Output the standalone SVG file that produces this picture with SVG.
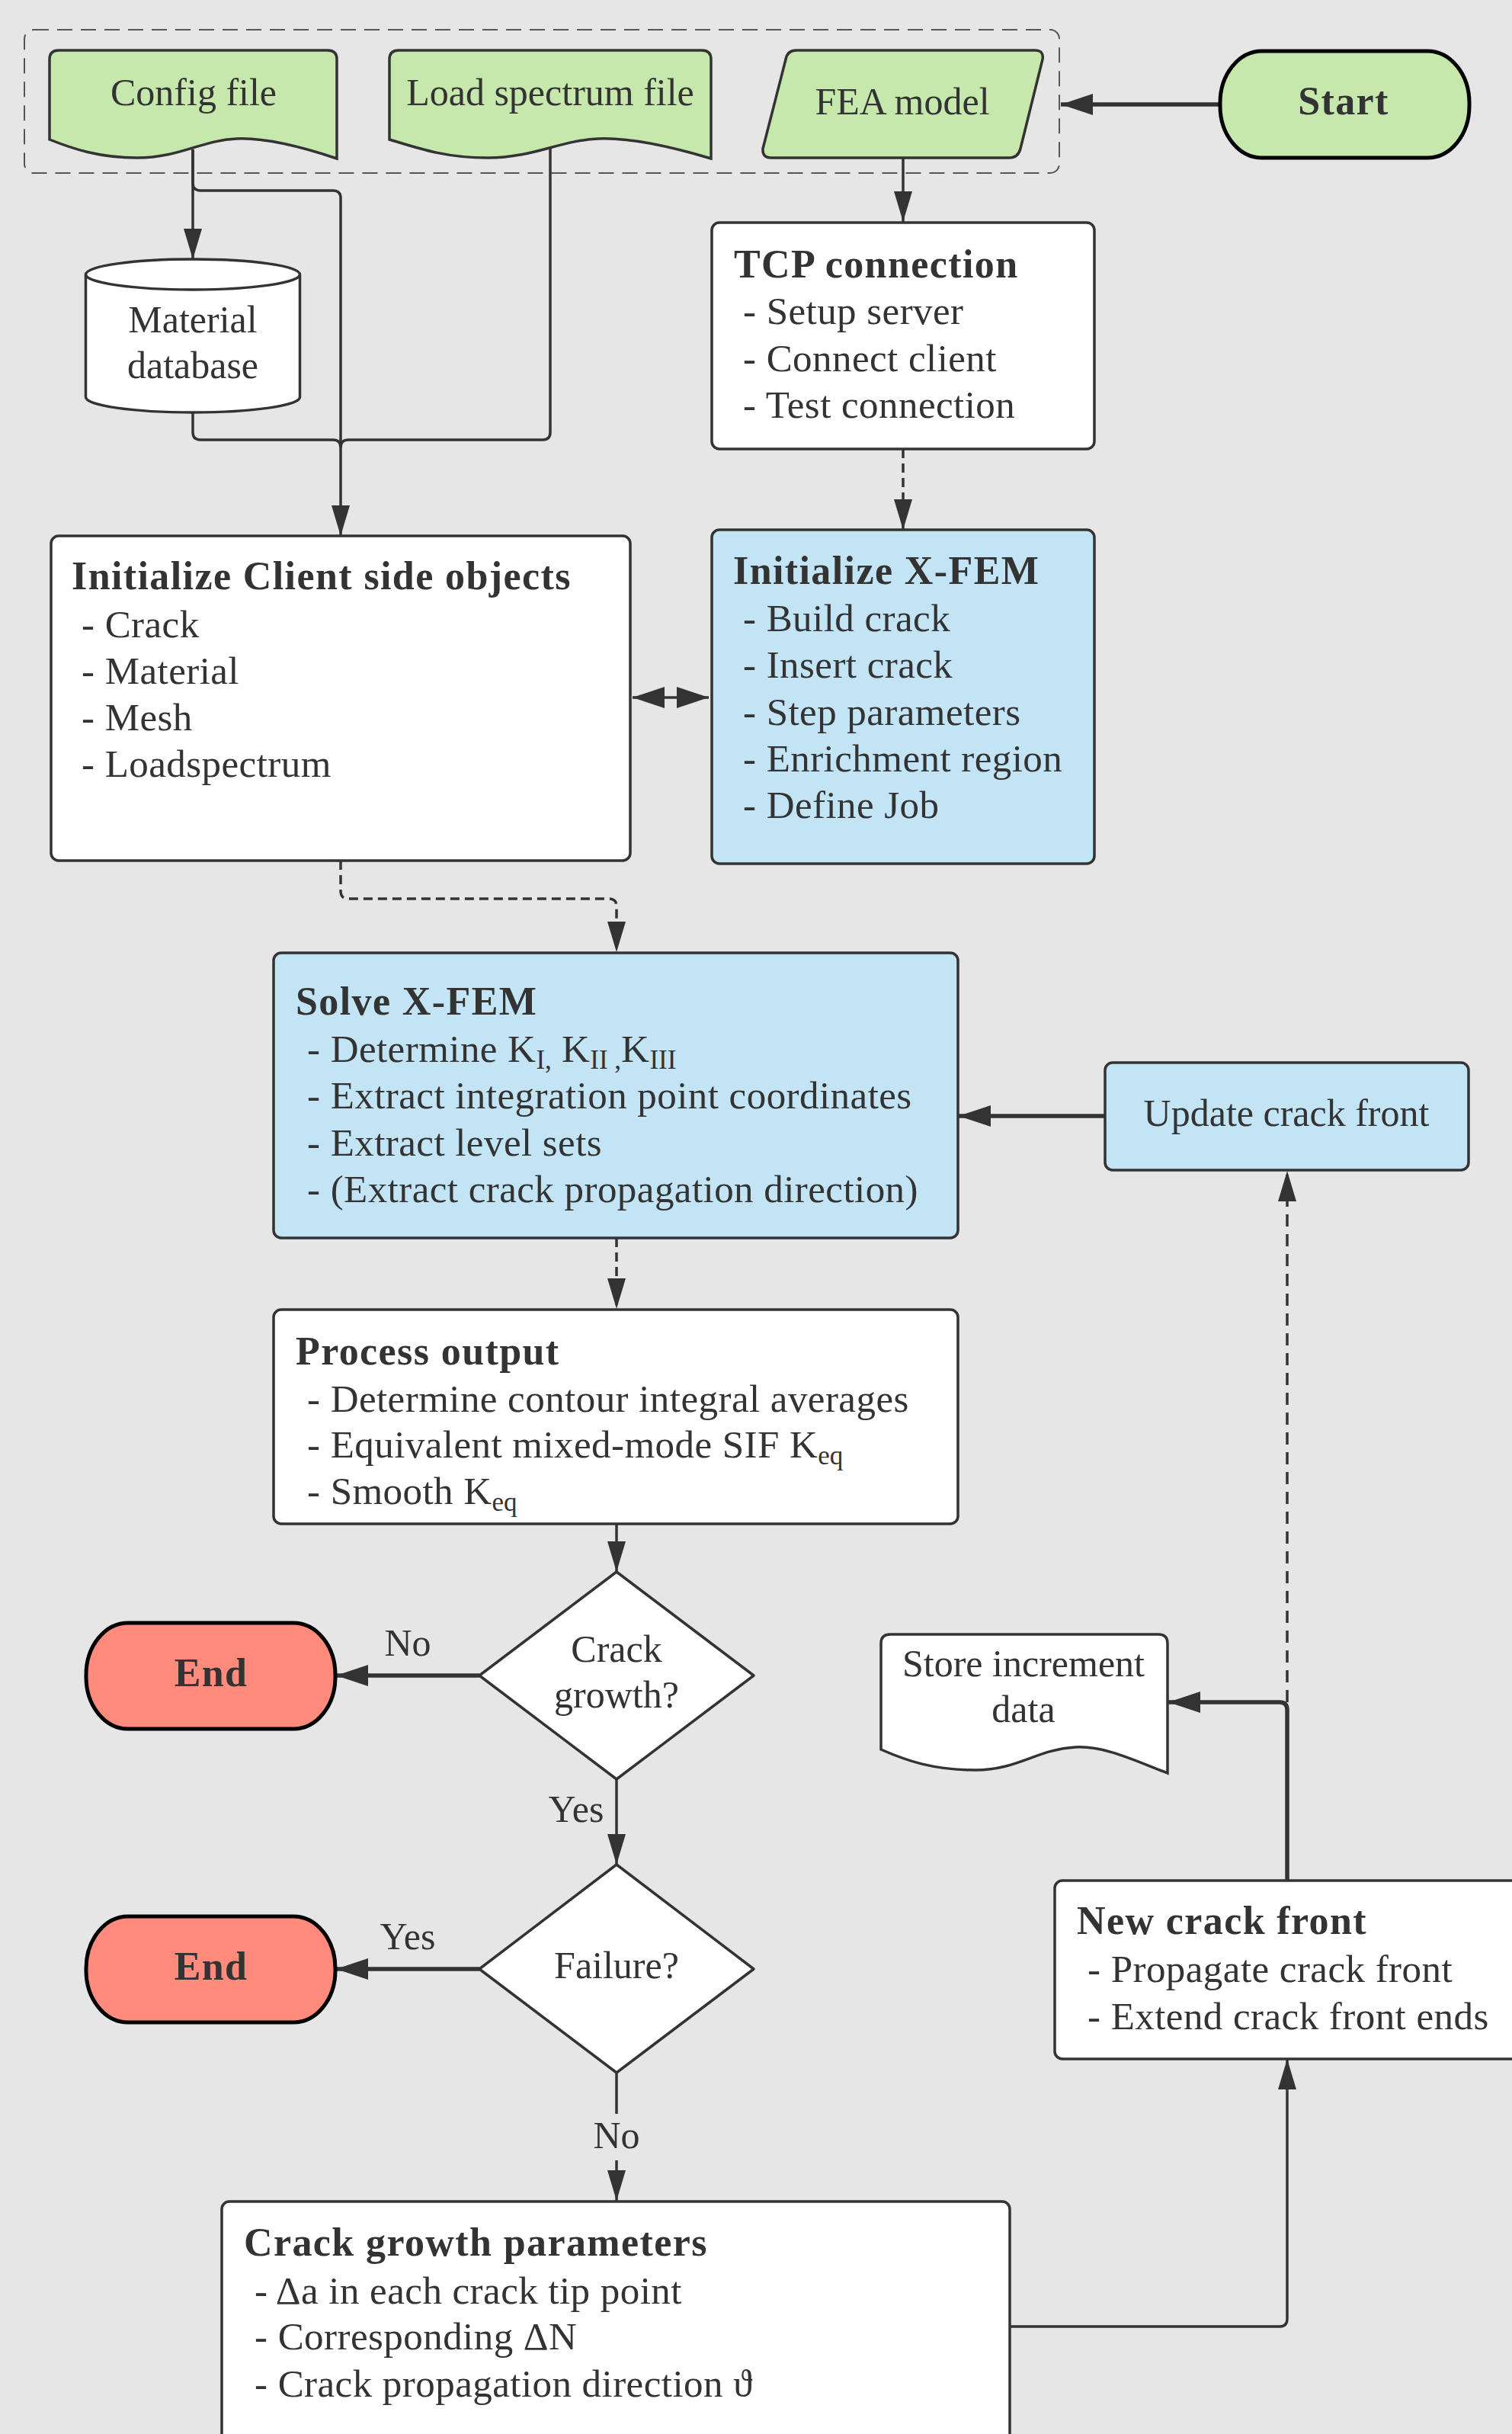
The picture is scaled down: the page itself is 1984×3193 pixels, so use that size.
<svg xmlns="http://www.w3.org/2000/svg" width="1984" height="3193" viewBox="0 0 1984 3193" font-family="Liberation Serif, DejaVu Serif, serif">
<style>
text{fill:#333;font-size:50px;font-family:"Liberation Serif","DejaVu Serif",serif}
.l{font-size:51px;letter-spacing:0.45px}
.b{font-weight:bold;font-size:52px;letter-spacing:1.4px}
.c{text-anchor:middle}
.box{stroke:#333;stroke-width:3.5}
.w{fill:#fff}
.g{fill:#c7e8ad}
.bl{fill:#c2e4f5}
.term{stroke:#000;stroke-width:5}
.e{fill:none;stroke:#333;stroke-width:3.5}
.thick{stroke-width:5.5}
.d{stroke-dasharray:12 7}
.dl{stroke-dasharray:16 10}
.sub{font-size:35px;letter-spacing:0}
</style>
<defs>
<marker id="ah" markerUnits="userSpaceOnUse" markerWidth="42" markerHeight="24" refX="40" refY="12" orient="auto"><path d="M0,0 L40,12 L0,24 Z" fill="#333"/></marker>
<marker id="aht" markerUnits="userSpaceOnUse" markerWidth="44" markerHeight="28" refX="42" refY="14" orient="auto-start-reverse"><path d="M0,0 L42,14 L0,28 Z" fill="#333"/></marker>
</defs>
<rect width="1984" height="3193" fill="#e6e6e6"/>

<g id="input-group">
<rect x="32" y="39" width="1358" height="188" rx="12" fill="none" stroke="#555" stroke-width="2" stroke-dasharray="20 11"/>
</g>

<g id="connectors">
<path class="e thick" d="M1600,137 L1392,137" marker-end="url(#aht)"/>
<path class="e" d="M1185,207 L1185,291" marker-end="url(#ah)"/>
<path class="e" d="M253,196 L253,340" marker-end="url(#ah)"/>
<path class="e" d="M253,196 L253,240 Q253,250 263,250 L437,250 Q447,250 447,260 L447,703" marker-end="url(#ah)"/>
<path class="e" d="M722,195 L722,567 Q722,577 712,577 L457,577 Q447,577 447,587"/>
<path class="e" d="M253,541 L253,567 Q253,577 263,577 L437,577 Q447,577 447,587"/>
<path class="e d" d="M1185,589 L1185,695" marker-end="url(#ah)"/>
<path class="e" d="M830,915 L930,915" marker-start="url(#aht)" marker-end="url(#aht)"/>
<path class="e d" d="M447,1129 L447,1169 Q447,1179 457,1179 L799,1179 Q809,1179 809,1189 L809,1249" marker-end="url(#ah)"/>
<path class="e d" d="M809,1624 L809,1717" marker-end="url(#ah)"/>
<path class="e thick" d="M1450,1464 L1258,1464" marker-end="url(#aht)"/>
<path class="e" d="M809,1999 L809,2062" marker-end="url(#ah)"/>
<path class="e thick" d="M629,2198 L441,2198" marker-end="url(#aht)"/>
<text class="c" x="535" y="2172">No</text>
<path class="e" d="M809,2334 L809,2446" marker-end="url(#ah)"/>
<text class="c" x="756" y="2390">Yes</text>
<path class="e thick" d="M629,2583 L441,2583" marker-end="url(#aht)"/>
<text class="c" x="535" y="2557">Yes</text>
<path class="e" d="M809,2719 L809,2773 M809,2834 L809,2887" marker-end="url(#ah)"/>
<text class="c" x="809" y="2818">No</text>
<path class="e" d="M1325,3052 L1679,3052 Q1689,3052 1689,3042 L1689,2701" marker-end="url(#ah)"/>
<path class="e thick" d="M1689,2467 L1689,2243 Q1689,2233 1679,2233 L1533,2233" marker-end="url(#aht)"/>
<path class="e dl" d="M1689,2233 L1689,1536" marker-end="url(#ah)"/>
</g>

<g id="config-file">
<path class="box g" d="M65,183 L65,78 Q65,66 77,66 L430,66 Q442,66 442,78 L442,208 C400,194 350,180 310,182 C265,184 235,207 180,207 C130,207 95,195 65,183 Z"/>
<text class="c" x="254" y="138">Config file</text>
</g>

<g id="load-spectrum-file">
<path class="box g" d="M511,183 L511,78 Q511,66 523,66 L921,66 Q933,66 933,78 L933,208 C886,194 830,180 785,182 C735,184 700,207 640,207 C585,207 550,195 511,183 Z"/>
<text class="c" x="722" y="138">Load spectrum file</text>
</g>

<g id="fea-model">
<path class="box g" d="M1045,66 L1358,66 Q1370,66 1368,78 L1339,195 Q1336,207 1324,207 L1012,207 Q1000,207 1001,195 L1031,78 Q1033,66 1045,66 Z"/>
<text class="c" x="1184" y="150">FEA model</text>
</g>

<g id="start">
<rect class="term g" x="1601" y="67" width="327" height="140" rx="55" ry="68"/>
<text class="c b" x="1763" y="150">Start</text>
</g>

<g id="material-database">
<path class="box w" d="M112.5,360 L112.5,521 A140.5,20 0 0 0 393.5,521 L393.5,360 A140.5,20 0 0 0 112.5,360 Z"/>
<path class="box" fill="none" d="M112.5,360 A140.5,20 0 0 0 393.5,360"/>
<text class="c" x="253" y="436">Material</text>
<text class="c" x="253" y="496">database</text>
</g>

<g id="tcp-connection">
<rect class="box w" x="934" y="292" width="502" height="297" rx="10"/>
<text class="b" x="963" y="364">TCP connection</text>
<text class="l" x="975" y="425">- Setup server</text>
<text class="l" x="975" y="487">- Connect client</text>
<text class="l" x="975" y="548">- Test connection</text>
</g>

<g id="init-client">
<rect class="box w" x="67" y="703" width="760" height="426" rx="10"/>
<text class="b" x="94" y="773">Initialize Client side objects</text>
<text class="l" x="107" y="836">- Crack</text>
<text class="l" x="107" y="897">- Material</text>
<text class="l" x="107" y="958">- Mesh</text>
<text class="l" x="107" y="1019">- Loadspectrum</text>
</g>

<g id="init-xfem">
<rect class="box bl" x="934" y="695" width="502" height="438" rx="10"/>
<text class="b" x="962" y="766">Initialize X-FEM</text>
<text class="l" x="975" y="828">- Build crack</text>
<text class="l" x="975" y="889">- Insert crack</text>
<text class="l" x="975" y="951">- Step parameters</text>
<text class="l" x="975" y="1012">- Enrichment region</text>
<text class="l" x="975" y="1073">- Define Job</text>
</g>

<g id="solve-xfem">
<rect class="box bl" x="359" y="1250" width="898" height="374" rx="10"/>
<text class="b" x="388" y="1331">Solve X-FEM</text>
<text class="l" x="403" y="1393">- Determine K<tspan class="sub" dy="9">I,</tspan><tspan dy="-9"> K</tspan><tspan class="sub" dy="9">II ,</tspan><tspan dy="-9">K</tspan><tspan class="sub" dy="9">III</tspan></text>
<text class="l" x="403" y="1454">- Extract integration point coordinates</text>
<text class="l" x="403" y="1516">- Extract level sets</text>
<text class="l" x="403" y="1577">- (Extract crack propagation direction)</text>
</g>

<g id="update-crack-front">
<rect class="box bl" x="1450" y="1394" width="477" height="141" rx="10"/>
<text class="c" x="1688" y="1477">Update crack front</text>
</g>

<g id="process-output">
<rect class="box w" x="359" y="1718" width="898" height="281" rx="10"/>
<text class="b" x="388" y="1790">Process output</text>
<text class="l" x="403" y="1852">- Determine contour integral averages</text>
<text class="l" x="403" y="1912">- Equivalent mixed-mode SIF K<tspan class="sub" dy="9">eq</tspan></text>
<text class="l" x="403" y="1973">- Smooth K<tspan class="sub" dy="9">eq</tspan></text>
</g>

<g id="crack-growth-decision">
<polygon class="box w" stroke-linejoin="round" points="809,2062 989,2198 809,2334 629,2198"/>
<text class="c" x="809" y="2180">Crack</text>
<text class="c" x="809" y="2240">growth?</text>
</g>

<g id="end-1">
<rect class="term" fill="#fe8b7c" x="113" y="2129" width="327" height="139" rx="55" ry="68"/>
<text class="c b" x="277" y="2212">End</text>
</g>

<g id="failure-decision">
<polygon class="box w" stroke-linejoin="round" points="809,2446 989,2583 809,2719 629,2583"/>
<text class="c" x="809" y="2595">Failure?</text>
</g>

<g id="end-2">
<rect class="term" fill="#fe8b7c" x="113" y="2514" width="327" height="139" rx="55" ry="68"/>
<text class="c b" x="277" y="2597">End</text>
</g>

<g id="store-increment-data">
<path class="box w" d="M1156,2295 L1156,2156 Q1156,2144 1168,2144 L1520,2144 Q1532,2144 1532,2156 L1532,2326 C1490,2310 1450,2290 1411,2292 C1360,2295 1335,2322 1280,2322 C1225,2322 1190,2310 1156,2295 Z"/>
<text class="c" x="1343" y="2199">Store increment</text>
<text class="c" x="1343" y="2259">data</text>
</g>

<g id="new-crack-front">
<rect class="box w" x="1384" y="2467" width="640" height="234" rx="10"/>
<text class="b" x="1413" y="2537">New crack front</text>
<text class="l" x="1427" y="2600">- Propagate crack front</text>
<text class="l" x="1427" y="2662">- Extend crack front ends</text>
</g>

<g id="crack-growth-parameters">
<rect class="box w" x="291" y="2888" width="1034" height="340" rx="10"/>
<text class="b" x="320" y="2959">Crack growth parameters</text>
<text class="l" x="334" y="3022">- Δa in each crack tip point</text>
<text class="l" x="334" y="3082">- Corresponding ΔN</text>
<text class="l" x="334" y="3144">- Crack propagation direction ϑ</text>
</g>
</svg>
